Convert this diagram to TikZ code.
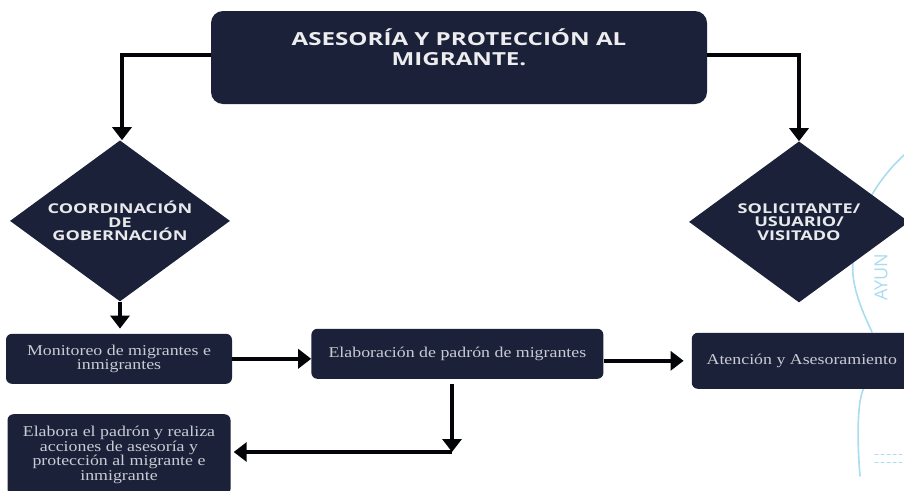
\documentclass[tikz,border=0pt]{standalone}
\usepackage{fontspec}
\setmainfont{Liberation Serif}[FakeStretch=1.19]
\newfontfamily\widesans{Open Sans}[FakeStretch=1.34]
\setsansfont{Open Sans}
\usetikzlibrary{positioning}
\usetikzlibrary{shapes.geometric,arrows.meta}
\definecolor{navybox}{HTML}{1B2139}
\definecolor{softtext}{HTML}{C9CCD4}
\definecolor{stampblue}{HTML}{A9DCEF}
\tikzset{
    titlebox/.style={fill=navybox, rounded corners=12pt, minimum width=496pt, minimum height=93pt, inner sep=0pt, align=center, text=white!92!navybox, font=\widesans\bfseries\fontsize{18}{19.5}\selectfont},
    decision/.style={diamond, shape aspect=1.375, fill=navybox, minimum width=220pt, minimum height=161pt, inner sep=0pt, align=center, text=white!90!navybox, font=\widesans\bfseries\fontsize{13.5}{13.3}\selectfont},
    stepbox/.style={fill=navybox, rounded corners=6pt, inner sep=0pt, align=center, text=softtext, font=\fontsize{15}{12.5}\selectfont},
    flow/.style={draw=black!88!navybox, line width=3.5pt, -{Triangle[length=13pt,width=19pt]}},
    stamp/.style={draw=stampblue, line width=1.6pt, line cap=round}
}
\begin{document}
\begin{tikzpicture}[x=1pt,y=-1pt]
        \useasboundingbox (0,0) rectangle (904,490);
        % Stamp behind the chart
        \draw[stamp] (904,155) .. controls (872,185) and (850,225) .. (853,275) .. controls (855,295) and (864,315) .. (872,332);
        \draw[stamp] (864,388) .. controls (857,400) and (857,440) .. (860,476);
        \draw[stamp, line width=1pt, dashed] (875,454) -- (904,454);
        \draw[stamp, line width=1pt, dashed] (875,462) -- (904,462);
        \node[text=stampblue, rotate=90, font=\sffamily\fontsize{18}{18}\selectfont] (seal) at (881,277) {AYUN};
        % Define nodes
        \node[titlebox] (T) at (459,57.5) {ASESORÍA Y PROTECCIÓN AL\\MIGRANTE.\\[-5pt]\strut};
        \node[decision, below=36pt of T, xshift=-339pt] (L) {COORDINACIÓN\\DE\\GOBERNACIÓN};
        \node[decision, below=37pt of T, xshift=340pt] (R) {SOLICITANTE/\\USUARIO/\\VISITADO};
        \node[stepbox, minimum width=226pt, minimum height=50pt, below=32pt of L, xshift=-1pt] (M) {Monitoreo de migrantes e\\inmigrantes};
        \node[stepbox, minimum width=292pt, minimum height=50pt, right=79pt of M, yshift=5pt] (E) {Elaboración de padrón de migrantes};
        \node[stepbox, minimum width=220pt, minimum height=56pt, right=88pt of E, yshift=-7pt] (A) {Atención y Asesoramiento};
        \node[stepbox, minimum width=223pt, minimum height=81pt, below=30pt of M] (B) {Elabora el padrón y realiza\\acciones de asesoría y\\protección al migrante e\\inmigrante};
        \coordinate (J) at (452,452);
        % Connect nodes
        \draw[flow] ([yshift=2.5pt]T.west) -| ([xshift=2pt]L.north);
        \draw[flow] ([yshift=2.5pt]T.east) -| (R.north);
        \draw[flow, shorten >=5pt] (L) -- (L |- M.north);
        \draw[flow] (M.east) -- (M.east -| E.west);
        \draw[flow, shorten >=8pt] (A.west -| E.east) -- (A.west);
        \draw[flow, shorten <=5pt] (E.south -| J) -- (J);
        \draw[flow, shorten >=3pt] (J) -- (J -| B.east);
    \end{tikzpicture}
\end{document}
